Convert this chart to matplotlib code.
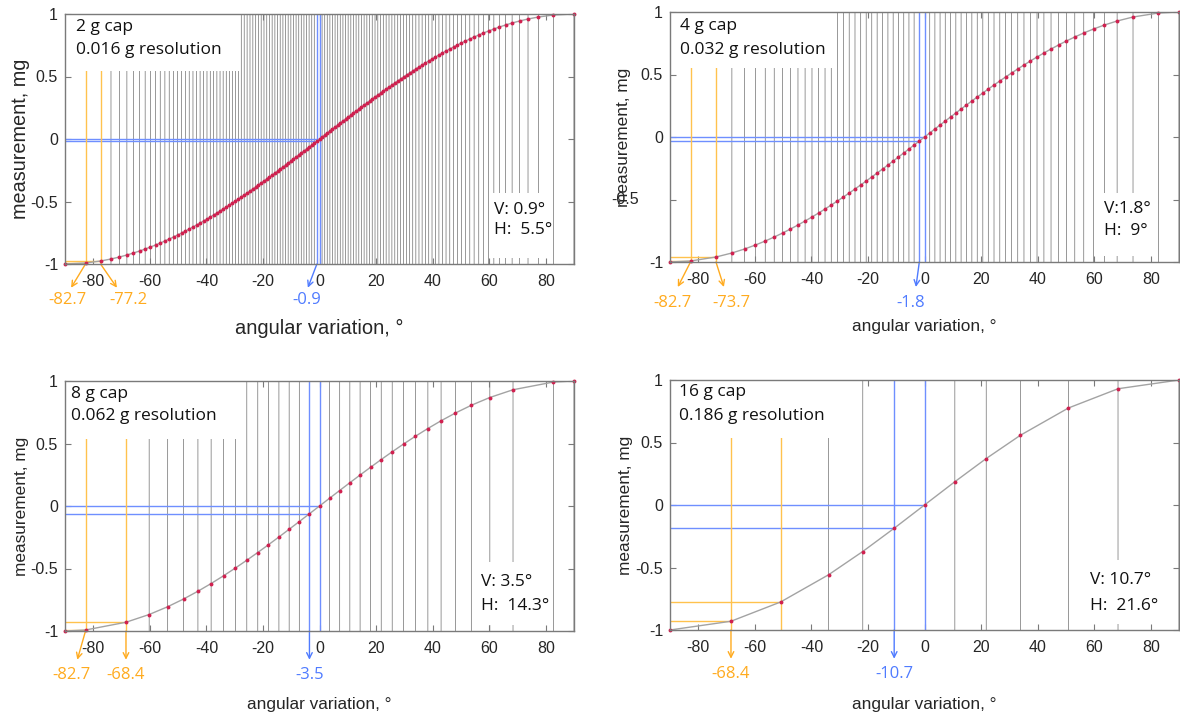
import numpy as np
import matplotlib
matplotlib.use('Agg')
import matplotlib.pyplot as plt
from matplotlib.patches import Rectangle

plt.rcParams['axes.unicode_minus'] = False

# ---------------- data ----------------
cap_labels = ['2 g cap', '4 g cap', '8 g cap', '16 g cap']
res_labels = ['0.016 g resolution', '0.032 g resolution',
              '0.062 g resolution', '0.186 g resolution']
v_labels = ['V: 0.9°', 'V:1.8°', 'V: 3.5°', 'V: 10.7°']
h_labels = ['H:  5.5°', 'H:  9°', 'H:  14.3°', 'H:  21.6°']

# positive quantisation levels (measurement, mg) of each cap; the curve is symmetric
levels_2g = [0.016, 0.032, 0.048, 0.064, 0.080, 0.096, 0.112, 0.128, 0.144, 0.160,
             0.176, 0.192, 0.208, 0.224, 0.240, 0.256, 0.272, 0.288, 0.304, 0.320,
             0.336, 0.352, 0.368, 0.384, 0.400, 0.416, 0.432, 0.448, 0.464, 0.480,
             0.496, 0.512, 0.528, 0.544, 0.560, 0.576, 0.592, 0.608, 0.624, 0.640,
             0.656, 0.672, 0.688, 0.704, 0.720, 0.736, 0.752, 0.768, 0.784, 0.800,
             0.816, 0.832, 0.848, 0.864, 0.880, 0.896, 0.912, 0.928, 0.944, 0.960,
             0.976, 0.992]
levels_4g = [0.032, 0.064, 0.096, 0.128, 0.160, 0.192, 0.224, 0.256, 0.288, 0.320,
             0.352, 0.384, 0.416, 0.448, 0.480, 0.512, 0.544, 0.576, 0.608, 0.640,
             0.672, 0.704, 0.736, 0.768, 0.800, 0.832, 0.864, 0.896, 0.928, 0.960,
             0.992]
levels_8g = [0.062, 0.124, 0.186, 0.248, 0.310, 0.372, 0.434, 0.496, 0.558, 0.620,
             0.682, 0.744, 0.806, 0.868, 0.930, 0.992]
levels_16g = [0.186, 0.372, 0.558, 0.776, 0.930]

# highlighted levels
blue_levels = [-0.016, -0.032, -0.062, -0.186]
blue_texts = ['-0.9', '-1.8', '-3.5', '-10.7']
orange_levels = [[-0.992, -0.976], [-0.992, -0.960], [-0.992, -0.930], [-0.930, -0.776]]
orange_texts = [['-82.7', '-77.2'], ['-82.7', '-73.7'], ['-82.7', '-68.4'], ['-68.4', None]]

all_levels = [levels_2g, levels_4g, levels_8g, levels_16g]

# ---------------- layout ----------------
W, H = 1180, 720
fig = plt.figure(figsize=(W / 100, H / 100), dpi=100)

ax_px = [(65, 14, 574, 264), (670, 12, 1179, 262),
         (65, 381, 574, 631), (670, 380, 1179, 630)]

FRAME = '#7a7a7a'
TXT = '#262626'
GRID = '#7c7c7c'
CURVE = '#a3a3a3'
DOT = '#d0204f'
BLUE_L = '#6f8fff'
BLUE_T = '#4f7bff'
ORA_L = '#ffc24d'
ORA_T = '#ffab1f'

tick_font = dict(family='Liberation Sans', size=11.5)
ann_family = ['Open Sans', 'DejaVu Sans']

ylab_size = [14.3, 12.4, 12.4, 12.4]
xlab_size = [14.5, 12.4, 12.4, 12.4]
ylab_x = [-0.088, -0.092, -0.086, -0.088]
xlab_y = [-0.256, -0.259, -0.296, -0.300]
tl_box = [(-28.3, 0.547), (-32.4, 0.551), (-27.5, 0.540), (-31.0, 0.540)]
tl_text_x = [-86.0, -86.5, -87.8, -86.7]
tl_text_y = [(0.896, 0.712), (0.885, 0.693), (0.900, 0.718), (0.900, 0.710)]
br_box = [(59.8, 82.4, -0.43), (59.9, 82.0, -0.45), (55.5, 82.0, -0.45), (56.0, 86.0, -0.44)]
br_text_x = [61.7, 63.5, 57.2, 58.4]
br_text_y = [(-0.571, -0.726), (-0.574, -0.755), (-0.611, -0.798), (-0.598, -0.806)]
blue_arrow = [(-3.2, -3.5), (-1.2, -3.1), (0, 0), (0, 0)]
orange_arrow = [[(-5.1, -6.2), (5.8, 9.7)], [(-4.5, -6.3), (2.8, 5.5)],
                [(-2.9, -4.9), (0, 0)], [(0, 0), None]]
arrow_end_y = [-1.19, -1.20, -1.23, -1.23]
arrow_text_y = [-1.29, -1.33, -1.35, -1.35]

for i in range(4):
    x0, y0, x1, y1 = ax_px[i]
    ax = fig.add_axes([x0 / W, 1 - y1 / H, (x1 - x0) / W, (y1 - y0) / H])
    ax.set_xlim(-90, 90)
    ax.set_ylim(-1, 1)

    pos = all_levels[i]
    lv = np.array([-1.0] + [-v for v in reversed(pos)] + [0.0] + pos + [1.0])
    ang = np.degrees(np.arcsin(lv))

    # highlighted levels replace the grey grid line at the same angle
    marked = [0.0, blue_levels[i]] + list(orange_levels[i])
    keep = [not np.any(np.isclose(v, marked)) for v in lv]
    vl = ax.vlines(ang[keep], -1, 1, colors=GRID, lw=0.55, zorder=1)
    vl.set_snap(False)

    for b in [0.0, blue_levels[i]]:
        bx = np.degrees(np.arcsin(b))
        ax.vlines(bx, -1, 1, colors=BLUE_L, lw=1.0, zorder=2)
        ax.hlines(b, -90, bx, colors=BLUE_L, lw=1.0, zorder=2)
    for o in orange_levels[i]:
        ox = np.degrees(np.arcsin(o))
        ax.vlines(ox, -1, 1, colors=ORA_L, lw=1.0, zorder=2)
        ax.hlines(o, -90, ox, colors=ORA_L, lw=1.0, zorder=2)

    ax.plot(ang, lv, color=CURVE, lw=1.0, zorder=3)
    ax.plot(ang, lv, 'o', ms=2.8, color=DOT, mec='none', zorder=4, clip_on=False)

    bx1, by0 = tl_box[i]
    ax.add_patch(Rectangle((-90, by0), bx1 + 90, 1 - by0, facecolor='white',
                           edgecolor='none', zorder=5))
    rx0, rx1, rtop = br_box[i]
    ax.add_patch(Rectangle((rx0, -0.95), rx1 - rx0, rtop + 0.95, facecolor='white',
                           edgecolor='none', zorder=5))

    for ty, s in zip(tl_text_y[i], [cap_labels[i], res_labels[i]]):
        ax.text(tl_text_x[i], ty, s, family=ann_family, size=12.5, color='#111111',
                va='center', ha='left', zorder=6)
    for ty, s in zip(br_text_y[i], [v_labels[i], h_labels[i]]):
        ax.text(br_text_x[i], ty, s, family=ann_family, size=12.5, color='#111111',
                va='center', ha='left', zorder=6)

    bxv = np.degrees(np.arcsin(blue_levels[i]))
    edx, tdx = blue_arrow[i]
    ax.annotate('', xy=(bxv + edx, arrow_end_y[i]), xytext=(bxv, -1.0),
                arrowprops=dict(arrowstyle='->', color=BLUE_T, lw=1.0,
                                shrinkA=0, shrinkB=0), annotation_clip=False)
    ax.text(bxv + tdx, arrow_text_y[i], blue_texts[i], family=ann_family, size=12,
            color=BLUE_T, ha='center', va='center', clip_on=False)
    for o, t, arr in zip(orange_levels[i], orange_texts[i], orange_arrow[i]):
        if t is None:
            continue
        ox = np.degrees(np.arcsin(o))
        edx, tdx = arr
        ax.annotate('', xy=(ox + edx, arrow_end_y[i]), xytext=(ox, -1.0),
                    arrowprops=dict(arrowstyle='->', color=ORA_T, lw=1.0,
                                    shrinkA=0, shrinkB=0), annotation_clip=False)
        ax.text(ox + tdx, arrow_text_y[i], t, family=ann_family, size=12,
                color=ORA_T, ha='center', va='center', clip_on=False)

    ax.set_xticks([-80, -60, -40, -20, 0, 20, 40, 60, 80])
    ax.set_xticklabels(['-80', '-60', '-40', '-20', '0', '20', '40', '60', '80'],
                       **tick_font)
    ax.set_yticks([-1, -0.5, 0, 0.5, 1])
    ylabs = ['-1', '-0.5', '0', '0.5', '1']
    if i == 1:
        ylabs[1] = ''
    ax.set_yticklabels(ylabs, **tick_font)
    if i == 1:
        # in the original this tick label sits shifted onto the axis title
        ax.text(-0.062, 0.25, '-0.5', transform=ax.transAxes, ha='right', va='center',
                color=TXT, **tick_font)
    ax.tick_params(direction='in', length=4, width=0.8, color=FRAME, labelcolor=TXT,
                   top=True, right=True)
    ax.tick_params(axis='x', pad=7)
    ax.tick_params(axis='y', pad=5)
    for sp in ax.spines.values():
        sp.set_color(FRAME)
        sp.set_linewidth(1.0)
        sp.set_zorder(10)

    ax.text(0.5, xlab_y[i], 'angular variation, °', transform=ax.transAxes,
            ha='center', va='center', family='Liberation Sans', size=xlab_size[i],
            color=TXT)
    ax.text(ylab_x[i], 0.5, 'measurement, mg', transform=ax.transAxes, rotation=90,
            ha='center', va='center', family='Liberation Sans', size=ylab_size[i],
            color=TXT)

fig.savefig('out.png', dpi=100)
